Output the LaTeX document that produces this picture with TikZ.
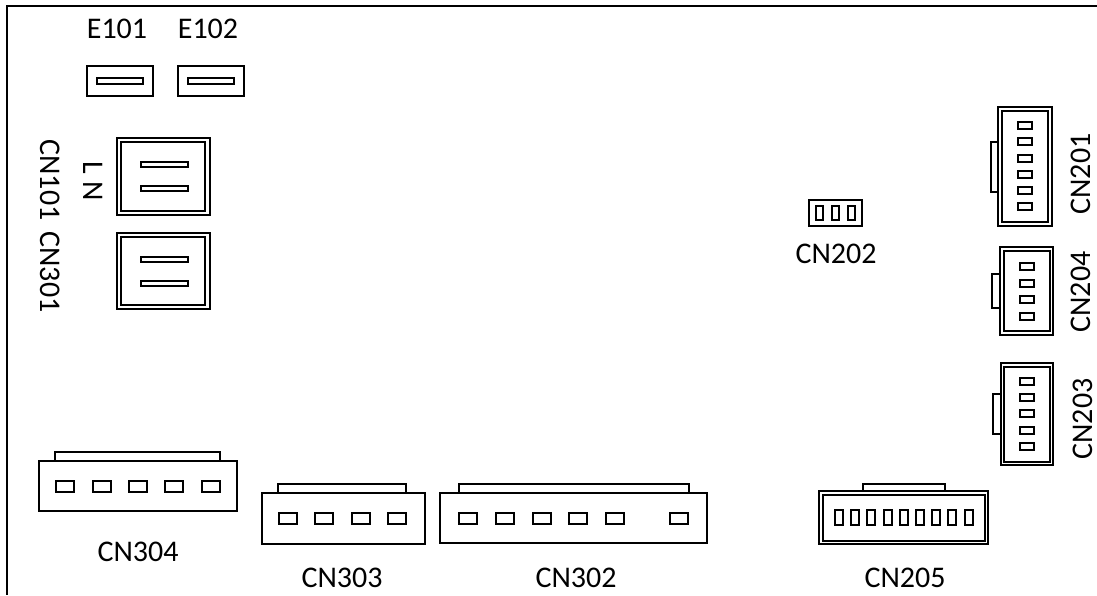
\documentclass[tikz,border=0pt]{standalone}
\usepackage{fontspec}
\setmainfont{Carlito}
\tikzset{part/.style={line width=1.6pt},
pin/.style={line width=1.6pt},
label/.style={inner sep=0pt, font=\fontsize{30}{31}\selectfont},
side down/.style={label, rotate=-90},
side up/.style={label, rotate=90}}

\begin{document}
\begin{tikzpicture}[x=1pt, y=-1pt]
        \useasboundingbox (0, 0) rectangle (1097, 595);
        \draw[line width=1.8pt] (1097, 6) -- (7, 6) -- (7, 595);

        % spade terminals
        \draw[part] (87, 66) rectangle (153, 96)
                    (178, 66) rectangle (244, 96);
        \draw[pin]  (97, 78) rectangle (143, 84)
                    (188, 78) rectangle (234, 84);

        % mains blocks
        \draw[part] (117, 138) rectangle (210, 215)
                    (121, 142) rectangle (205, 211)
                    (117, 233) rectangle (210, 309)
                    (121, 237) rectangle (205, 305);
        \foreach \y in {162, 186, 257, 281}
            \draw[pin] (141, \y) rectangle (188, \y+5);

        % small header
        \draw[part] (809, 200) rectangle (862, 226);
        \foreach \x in {816, 832, 848}
            \draw[pin] (\x, 206) rectangle (\x+7, 220);

        % right hand side
        \draw[part] (998, 107) rectangle (1052, 226)
                    (1002, 111) rectangle (1048, 222)
                    (991, 142) rectangle (998, 192);
        \foreach \y in {122, 138, 155, 171, 187, 203}
            \draw[pin] (1018, \y) rectangle (1032, \y+7);

        \draw[part] (1000, 247) rectangle (1053, 335)
                    (1004, 251) rectangle (1050, 331)
                    (992, 274) rectangle (1000, 308);
        \foreach \y in {263, 280, 296, 313}
            \draw[pin] (1020, \y) rectangle (1034, \y+7);

        \draw[part] (1001, 363) rectangle (1053, 465)
                    (1004, 367) rectangle (1050, 462)
                    (993, 394) rectangle (1001, 434);
        \foreach \y in {378, 394, 410, 427, 443}
            \draw[pin] (1020, \y) rectangle (1034, \y+7);

        % bottom row
        \draw[part] (39, 461) rectangle (237, 511)
                    (55, 452) rectangle (220, 461);
        \foreach \x in {56, 93, 129, 165, 202}
            \draw[pin] (\x, 481) rectangle (\x+18, 492);

        \draw[part] (262, 493) rectangle (425, 544)
                    (278, 484) rectangle (406, 493);
        \foreach \x in {279, 315, 352, 388}
            \draw[pin] (\x, 513) rectangle (\x+18, 524);

        \draw[part] (440, 493) rectangle (707, 543)
                    (459, 484) rectangle (689, 493);
        \foreach \x in {459, 496, 533, 569, 606, 670}
            \draw[pin] (\x, 513) rectangle (\x+18, 524);

        \draw[part] (819, 491) rectangle (988, 544)
                    (823, 495) rectangle (985, 541)
                    (863, 484) rectangle (945, 491);
        \foreach \x in {835, 851, 867, 884, 900, 916, 932, 948, 965}
            \draw[pin] (\x, 510) rectangle (\x+8, 525);

        \node[label] (e101) at (117, 29) {E101};
        \node[label] (e102) at (208, 29) {E102};
        \node[side down] (cn101) at (50, 180) {CN101};
        \node[side down] (cn301) at (50, 272) {CN301};
        \node[side down] (ln) at (93, 181) {L N};
        \node[label] (cn202) at (836, 254) {CN202};
        \node[side up] (cn201) at (1081, 174) {CN201};
        \node[side up] (cn204) at (1081, 292) {CN204};
        \node[side up] (cn203) at (1083, 419) {CN203};
        \node[label] (cn304) at (138, 552) {CN304};
        \node[label] (cn303) at (342, 578) {CN303};
        \node[label] (cn302) at (576, 578) {CN302};
        \node[label] (cn205) at (905, 578) {CN205};
    \end{tikzpicture}
\end{document}
